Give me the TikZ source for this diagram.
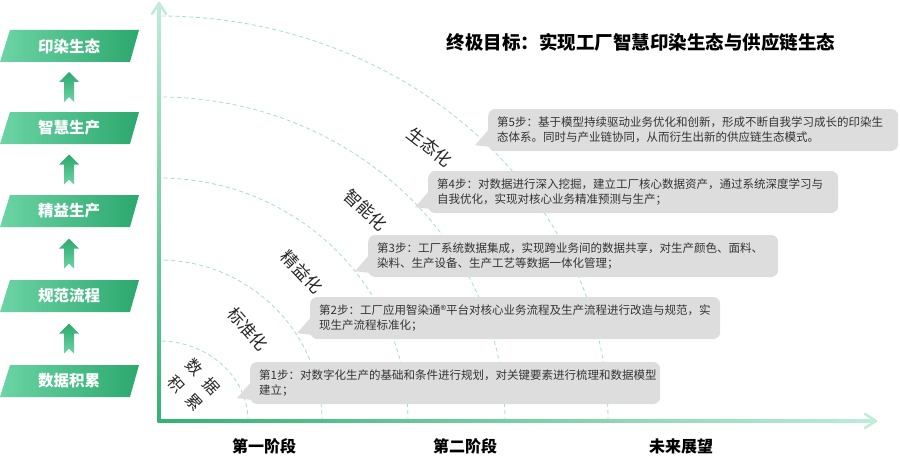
\documentclass[tikz,border=0pt]{standalone}
\usepackage{fontspec}
\setmainfont{Noto Sans CJK SC}
\usetikzlibrary{calc}
\definecolor{gL}{RGB}{108,212,165}
\definecolor{gD}{RGB}{44,168,110}
\definecolor{axL}{RGB}{190,236,216}
\definecolor{axD}{RGB}{50,178,115}
\definecolor{arcC}{RGB}{160,224,202}
\definecolor{boxG}{RGB}{221,221,221}
\definecolor{txt}{RGB}{51,51,51}
\tikzset{
  greenup/.pic={
    \shade[top color=gD, bottom color=gL] (0,-15) -- (10,-5) -- (5,-5) -- (5,15) -- (0,10) -- (-5,15) -- (-5,-5) -- (-10,-5) -- cycle;
  }
}
\begin{document}
\begin{tikzpicture}[x=1pt,y=-1pt,
  stagebox/.style={text=white, font=\fontsize{15.5}{18}\selectfont\bfseries},
  callbox/.style={fill=boxG, rounded corners=7pt, text=txt, font=\fontsize{11.5}{15}\selectfont, align=left, anchor=west, minimum height=42pt, text width=392pt, inner xsep=9pt, inner ysep=0pt},
  pointer/.style={fill=boxG},
  arclab/.style={font=\fontsize{17}{20}\selectfont, text=black!85},
  phase/.style={font=\fontsize{16}{18}\selectfont\bfseries, text=black},
  arcline/.style={arcC, dash pattern=on 4pt off 3pt, line width=0.8pt},
  axhead/.style={line width=2.5pt, line cap=round, line join=round},
]
\useasboundingbox (0,0) rectangle (900,460);

% dashed arcs
\foreach \rx/\ry in {89/80,163/161,249/243,346/324,449/405}
  \draw[arcline] (159+\rx,421) arc[start angle=0,end angle=90,x radius=\rx pt,y radius=\ry pt];

% axes
\coordinate (O) at (159,421);
\coordinate (ytip) at (159,3);
\coordinate (xtip) at (876,421);
\shade[top color=axL, bottom color=axD] (157.5,421) rectangle (160.5,5);
\draw[axhead, axL] ([shift={(-7pt,-11pt)}]ytip) -- (ytip) -- ([shift={(7pt,-11pt)}]ytip);
\shade[left color=axD, right color=axL] (157.5,419.5) rectangle (874,422.5);
\draw[axhead, axL] ([shift={(-11pt,7pt)}]xtip) -- (xtip) -- ([shift={(-11pt,-7pt)}]xtip);

% left stage boxes
\foreach \cy/\t/\n in {46/印染生态/b1, 128/智慧生产/b2, 211/精益生产/b3, 296/规范流程/b4, 381/数据积累/b5}{
  \shade[left color=gL, right color=gD] (10,\cy-16) -- (139,\cy-16) -- (130,\cy+16) -- (0,\cy+16) -- cycle;
  \node[stagebox] (\n) at (69,\cy) {\t};
}
\pic at ($(b1)!0.5!(b2)$) {greenup};
\pic at ($(b2)!0.5!(b3)$) {greenup};
\pic at ($(b3)!0.5!(b4)$) {greenup};
\pic at ($(b4)!0.5!(b5)$) {greenup};

% title
\node[font=\fontsize{18.5}{20}\selectfont\bfseries] (title) at (641,42) {终极目标：实现工厂智慧印染生态与供应链生态};

% callouts
\node[callbox] (s5) at (488,130) {第5步：基于模型持续驱动业务优化和创新，形成不断自我学习成长的印染生\\态体系。同时与产业链协同，从而衍生出新的供应链生态模式。};
\node[callbox] (s4) at (428,192) {第4步：对数据进行深入挖掘，建立工厂核心数据资产，通过系统深度学习与\\自我优化，实现对核心业务精准预测与生产；};
\node[callbox] (s3) at (368,256) {第3步：工厂系统数据集成，实现跨业务间的数据共享，对生产颜色、面料、\\染料、生产设备、生产工艺等数据一体化管理；};
\node[callbox] (s2) at (310,318) {第2步：工厂应用智染通®平台对核心业务流程及生产流程进行改造与规范，实\\现生产流程标准化；};
\node[callbox] (s1) at (250,383) {第1步：对数字化生产的基础和条件进行规划，对关键要素进行梳理和数据模型\\建立；};
\foreach \n in {s1,s2,s3,s4,s5}
  \fill[pointer] ([xshift=1pt,yshift=22pt]\n.south west) -- ([xshift=-13pt,yshift=6pt]\n.south west) -- ([xshift=5pt,yshift=4pt]\n.south west) -- cycle;

% rotated stage labels
\node[arclab, rotate=-38] (l5) at (430,147) {生态化};
\node[arclab, rotate=-43] (l4) at (366,210) {智能化};
\node[arclab, rotate=-47] (l3) at (302,272) {精益化};
\node[arclab, rotate=-48] (l2) at (248,329) {标准化};
\node[arclab, rotate=-47, align=center, font=\fontsize{16}{24}\selectfont] (l1) at (194,385) {数\hspace{0.6em}据\\积\hspace{0.6em}累};

% phases
\node[phase] (p1) at (264,446) {第一阶段};
\node[phase] (p2) at (465,446) {第二阶段};
\node[phase] (p3) at (681,446) {未来展望};
\end{tikzpicture}
\end{document}
